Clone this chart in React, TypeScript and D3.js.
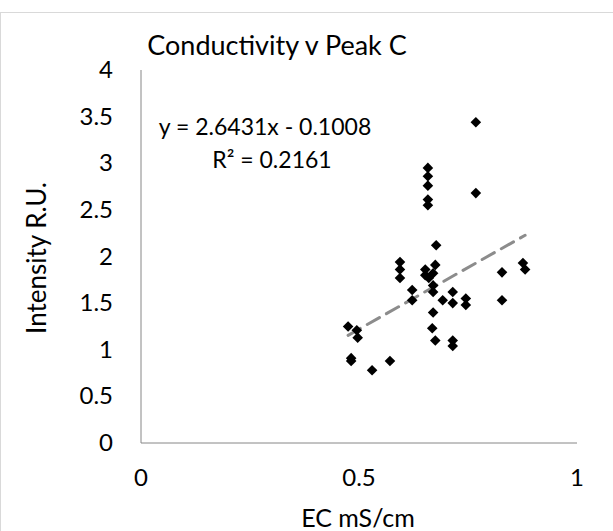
import React from "react";
import * as d3 from "d3";

// EC (mS/cm) readings and matching Peak C intensities
const ecValues = [
  0.475, 0.495, 0.497, 0.482, 0.482, 0.530, 0.571,
  0.594, 0.594, 0.594, 0.622, 0.622,
  0.658, 0.658, 0.658, 0.658, 0.658, 0.677,
  0.652, 0.675, 0.652, 0.670, 0.660, 0.670, 0.670, 0.692, 0.715, 0.715,
  0.745, 0.745, 0.670, 0.668, 0.675, 0.715, 0.715,
  0.768, 0.768, 0.828, 0.876, 0.881, 0.828,
];
const peakC = [
  1.25, 1.21, 1.13, 0.91, 0.88, 0.78, 0.88,
  1.94, 1.86, 1.77, 1.64, 1.53,
  2.95, 2.86, 2.76, 2.61, 2.55, 2.12,
  1.86, 1.91, 1.80, 1.82, 1.77, 1.69, 1.62, 1.53, 1.50, 1.62,
  1.55, 1.48, 1.40, 1.23, 1.10, 1.10, 1.04,
  3.44, 2.68, 1.83, 1.93, 1.86, 1.53,
];
const xTicks = [0, 0.5, 1];
const yTicks = [0, 0.5, 1, 1.5, 2, 2.5, 3, 3.5, 4];
const slope = 2.6431;
const intercept = -0.1008;

const W = 613;
const H = 531;
const font = "Lato, 'Open Sans', sans-serif";

export default function App() {
  const x = d3.scaleLinear().domain([0, 1]).range([141, 577]);
  const y = d3.scaleLinear().domain([0, 4]).range([443, 70]);
  const diamond = d3.symbol(d3.symbolSquare, 56)() as string;

  const xMin = d3.min(ecValues) as number;
  const xMax = d3.max(ecValues) as number;
  const trend = d3
    .line<number>()
    .x((d) => x(d))
    .y((d) => y(slope * d + intercept))([xMin, xMax]);

  return (
    <svg
      width={W}
      height={H}
      style={{ position: "absolute", left: 0, top: 0, background: "#fff" }}
    >
      <rect x={0.5} y={12.5} width={W} height={H} fill="#fff" stroke="#d9d9d9" />
      <text x={277} y={55} textAnchor="middle" fontFamily={font} fontSize={27} fill="#000">
        Conductivity v Peak C
      </text>

      {/* axes */}
      <line x1={x(0)} x2={x(0)} y1={y(4)} y2={y(0)} stroke="#868686" />
      <line x1={x(0)} x2={x(1)} y1={y(0)} y2={y(0)} stroke="#868686" />

      {yTicks.map((t) => (
        <text
          key={t}
          x={113}
          y={y(t) + 8}
          textAnchor="end"
          fontFamily={font}
          fontSize={24}
          fill="#000"
        >
          {t}
        </text>
      ))}
      {xTicks.map((t) => (
        <text
          key={t}
          x={x(t)}
          y={486}
          textAnchor="middle"
          fontFamily={font}
          fontSize={24}
          fill="#000"
        >
          {t}
        </text>
      ))}
      <text x={358} y={527} textAnchor="middle" fontFamily={font} fontSize={25} fill="#000">
        EC mS/cm
      </text>
      <text
        transform={`translate(46,258) rotate(-90)`}
        textAnchor="middle"
        fontFamily={font}
        fontSize={26}
        fill="#000"
      >
        Intensity R.U.
      </text>

      {/* trendline */}
      <path
        d={trend as string}
        fill="none"
        stroke="#8c8c8c"
        strokeWidth={3}
        strokeDasharray="14 8"
        strokeLinecap="round"
      />

      {ecValues.map((v, i) => (
        <path
          key={i}
          d={diamond}
          transform={`translate(${x(v)},${y(peakC[i])}) rotate(45)`}
          fill="#000"
        />
      ))}

      <text x={265} y={135} textAnchor="middle" fontFamily={font} fontSize={23} fill="#000">
        y = 2.6431x - 0.1008
      </text>
      <text x={272} y={168} textAnchor="middle" fontFamily={font} fontSize={23} fill="#000">
        R² = 0.2161
      </text>
    </svg>
  );
}
